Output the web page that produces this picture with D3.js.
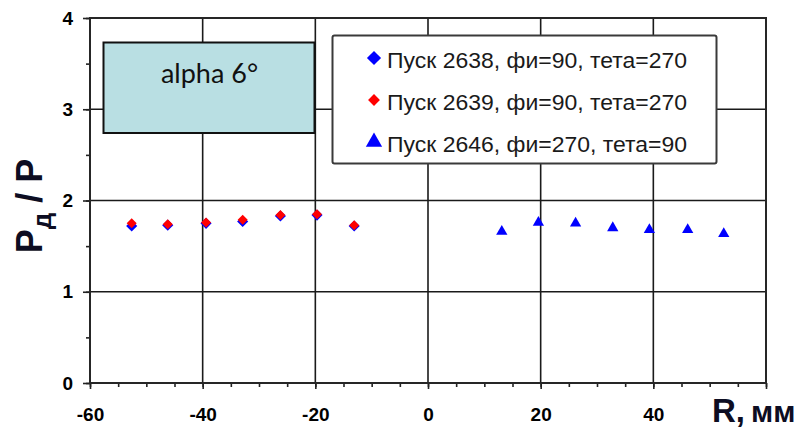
<!DOCTYPE html>
<html><head><meta charset="utf-8">
<script src="https://cdn.jsdelivr.net/npm/d3@7"></script>
<style>
html,body{margin:0;padding:0;background:#fff;}
svg{display:block;}
</style></head>
<body>
<svg id="chart" width="801" height="433"></svg>
<script>
// ---- data ----
const xLeft  = [-52.6, -46.2, -39.4, -32.9, -26.2, -19.7, -13.1];
const run2638 = [1.72, 1.73, 1.75, 1.77, 1.83, 1.84, 1.72];
const run2639 = [1.75, 1.74, 1.76, 1.79, 1.84, 1.85, 1.73];
const xRight = [13.1, 19.6, 26.2, 32.8, 39.3, 46.1, 52.5];
const run2646 = [1.66, 1.76, 1.75, 1.70, 1.68, 1.68, 1.635];
const seriesNames = ["Пуск 2638, фи=90, тета=270", "Пуск 2639, фи=90, тета=270", "Пуск 2646, фи=270, тета=90"];
const xTicks = [-60, -40, -20, 0, 20, 40, 60];
const xTickLabels = ["-60", "-40", "-20", "0", "20", "40", ""];
const xMinor = d3.range(-60, 61, 5);
const yTicks = [0, 1, 2, 3, 4];
const yTickLabels = ["0", "1", "2", "3", "4"];
const yMinor = d3.range(0, 4.01, 0.5);
const annotation = "alpha 6°";

const svg = d3.select("#chart");
const L = 90, R = 766, T = 18, B = 383;
const x = d3.scaleLinear().domain([-60, 60]).range([L, R]);
const y = d3.scaleLinear().domain([0, 4]).range([B, T]);
const fontBold = "'Liberation Sans', Arial, sans-serif";

// gridlines
svg.append("g").selectAll("line.v").data(xTicks.slice(1, -1)).join("line")
  .attr("x1", d => x(d)).attr("x2", d => x(d)).attr("y1", T).attr("y2", B)
  .attr("stroke", "#1a1a1a").attr("stroke-width", 1.6);
svg.append("g").selectAll("line.h").data(yTicks.slice(1, -1)).join("line")
  .attr("x1", L).attr("x2", R).attr("y1", d => y(d)).attr("y2", d => y(d))
  .attr("stroke", "#1a1a1a").attr("stroke-width", 1.6);

// minor ticks
const xm = svg.append("g").attr("transform", `translate(0,${B})`)
  .call(d3.axisBottom(x).tickValues(xMinor).tickSize(4).tickFormat(""));
xm.select(".domain").remove();
const ym = svg.append("g").attr("transform", `translate(${L},0)`)
  .call(d3.axisLeft(y).tickValues(yMinor).tickSize(4).tickFormat(""));
ym.select(".domain").remove();

// major axes
const xa = svg.append("g").attr("transform", `translate(0,${B})`)
  .call(d3.axisBottom(x).tickValues(xTicks).tickSize(6).tickPadding(19)
    .tickFormat((d, i) => xTickLabels[i]));
xa.select(".domain").remove();
xa.selectAll("text").attr("font-family", fontBold).attr("font-weight", "bold").attr("font-size", 19).attr("fill", "#000");
const ya = svg.append("g").attr("transform", `translate(${L},0)`)
  .call(d3.axisLeft(y).tickValues(yTicks).tickSize(7).tickPadding(10)
    .tickFormat((d, i) => yTickLabels[i]));
ya.select(".domain").remove();
ya.selectAll("text").attr("font-family", fontBold).attr("font-weight", "bold").attr("font-size", 19).attr("fill", "#000");
svg.selectAll(".tick line").attr("stroke", "#222").attr("stroke-width", 1.6);

// plot border
svg.append("rect").attr("x", L).attr("y", T).attr("width", R - L).attr("height", B - T)
  .attr("fill", "none").attr("stroke", "#262626").attr("stroke-width", 2);

// annotation box
svg.append("rect").attr("x", 103.5).attr("y", 42.5).attr("width", 211).attr("height", 90.5)
  .attr("fill", "#b9dfe3").attr("stroke", "#111").attr("stroke-width", 2);
svg.append("text").attr("x", 209.5).attr("y", 83).attr("text-anchor", "middle")
  .attr("font-family", "Lato, 'Open Sans', sans-serif").attr("font-size", 27).attr("fill", "#111")
  .text(annotation);

// legend
svg.append("rect").attr("x", 332.5).attr("y", 35.5).attr("width", 384).attr("height", 128)
  .attr("rx", 2).attr("fill", "#fff").attr("stroke", "#3a3a3a").attr("stroke-width", 2);

const diamond = s => d3.symbol().type(d3.symbolSquare).size(s)();
const tri = s => d3.symbol().type(d3.symbolTriangle).size(s)();

const legendItems = [
  {name: seriesNames[0], color: "#0000ff", path: diamond(100), rot: 45, ly: 58},
  {name: seriesNames[1], color: "#ff0000", path: diamond(70), rot: 45, ly: 100},
  {name: seriesNames[2], color: "#0000ff", path: tri(115), rot: 0, ly: 142},
];
legendItems.forEach(it => {
  svg.append("path").attr("d", it.path).attr("fill", it.color)
    .attr("transform", `translate(374,${it.ly}) rotate(${it.rot})`);
  svg.append("text").attr("x", 387).attr("y", it.ly + 5)
    .attr("dy", "0.2em")
    .attr("font-family", "'Liberation Sans', Arial, sans-serif").attr("font-size", 22.5)
    .attr("fill", "#1a1a1a").attr("textLength", 300).attr("lengthAdjust", "spacingAndGlyphs")
    .text(it.name);
});

// data points
const gPts = svg.append("g");
gPts.selectAll("path.s1").data(xLeft.map((v, i) => [v, run2638[i]])).join("path")
  .attr("d", diamond(62)).attr("fill", "#0000ff")
  .attr("transform", d => `translate(${x(d[0])},${y(d[1])}) rotate(45)`);
gPts.selectAll("path.s2").data(xLeft.map((v, i) => [v, run2639[i]])).join("path")
  .attr("d", diamond(50)).attr("fill", "#ff0000")
  .attr("transform", d => `translate(${x(d[0])},${y(d[1])}) rotate(45)`);
gPts.selectAll("path.s3").data(xRight.map((v, i) => [v, run2646[i]])).join("path")
  .attr("d", tri(55)).attr("fill", "#0000ff")
  .attr("transform", d => `translate(${x(d[0])},${y(d[1])})`);

// axis titles
const xt = svg.append("text").attr("x", 712).attr("y", 422)
  .attr("font-family", fontBold).attr("font-weight", "bold").attr("fill", "#0d0d22");
xt.append("tspan").attr("font-size", 33).text("R,");
xt.append("tspan").attr("font-size", 30).attr("dx", 6).text("мм");

const yt = svg.append("text").attr("transform", "translate(42,206) rotate(-90)")
  .attr("text-anchor", "middle")
  .attr("font-family", fontBold).attr("font-weight", "bold").attr("fill", "#0d0d22");
yt.append("tspan").attr("font-size", 36).text("P");
yt.append("tspan").attr("font-size", 26).attr("dy", 9).text("д");
yt.append("tspan").attr("font-size", 36).attr("dy", -9).text(" / P");
</script>
</body></html>
